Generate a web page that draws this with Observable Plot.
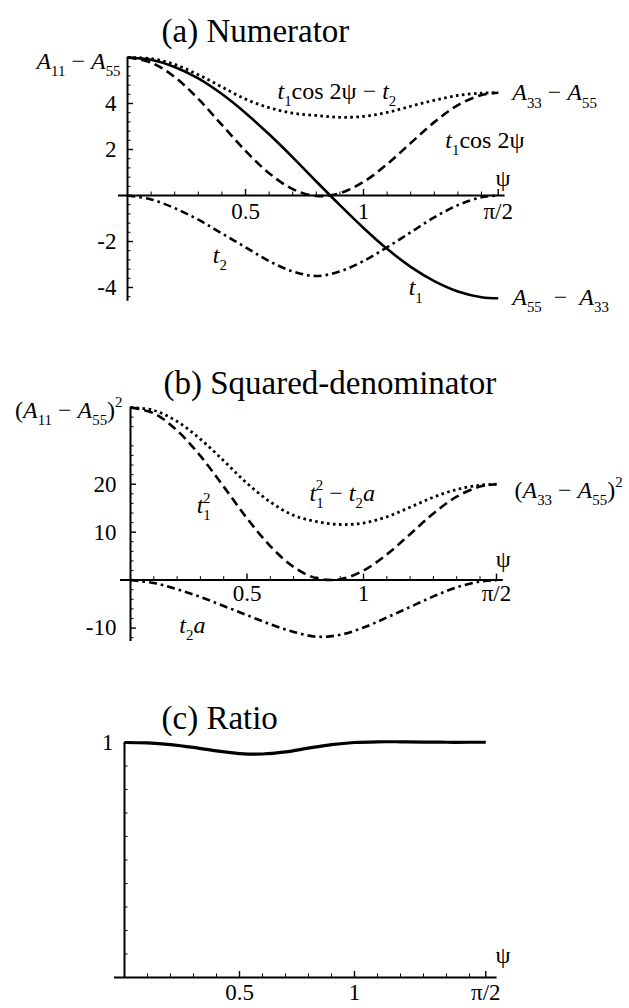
<!DOCTYPE html>
<html><head><meta charset="utf-8">
<script src="https://cdn.jsdelivr.net/npm/d3@7"></script>
<script src="https://cdn.jsdelivr.net/npm/@observablehq/plot@0.6"></script>
<style>
html,body{margin:0;padding:0;background:#fff;}
#chart svg{display:block;font-family:"Liberation Serif","Times New Roman",Times,serif !important;background:#fff;overflow:visible;}
#chart svg text{font-family:"Liberation Serif","Times New Roman",Times,serif !important;}
</style></head><body><div id="chart"></div>
<script>
// ---- data ----
const psi       = [0, 0.1, 0.2, 0.3, 0.4, 0.5, 0.6, 0.7, 0.8, 0.9, 1.0, 1.1, 1.2, 1.3, 1.4, 1.5, 1.5708];
const t1        = [6.00, 5.90, 5.59, 5.09, 4.41, 3.59, 2.66, 1.66, 0.61, -0.42, -1.41, -2.32, -3.10, -3.72, -4.17, -4.42, -4.47];
const t1cos2psi = [6.00, 5.78, 5.15, 4.20, 3.07, 1.94, 0.97, 0.28, -0.02, 0.10, 0.59, 1.36, 2.28, 3.19, 3.93, 4.37, 4.47];
const t2        = [0, -0.17, -0.55, -1.05, -1.65, -2.25, -2.85, -3.30, -3.50, -3.30, -2.85, -2.25, -1.60, -0.95, -0.42, -0.08, 0];
const numer     = [6.00, 5.95, 5.70, 5.25, 4.72, 4.19, 3.82, 3.58, 3.48, 3.40, 3.44, 3.61, 3.88, 4.14, 4.35, 4.45, 4.47];
const t1sq      = [36.0, 34.8, 31.2, 25.9, 19.5, 12.9, 7.09, 2.74, 0.37, 0.18, 2.00, 5.36, 9.58, 13.9, 17.4, 19.5, 20.0];
const t2a       = [0, -0.6, -1.9, -3.5, -5.4, -7.3, -9.2, -10.8, -11.8, -11.4, -9.9, -7.8, -5.6, -3.4, -1.5, -0.3, 0];
const denomSq   = [36.0, 35.4, 33.1, 29.4, 24.9, 20.2, 16.3, 13.5, 12.2, 11.6, 11.9, 13.2, 15.2, 17.3, 18.9, 19.8, 20.0];
const ratio     = [1.000, 0.998, 0.991, 0.979, 0.964, 0.953, 0.951, 0.960, 0.976, 0.991, 1.000, 1.003, 1.003, 1.002, 1.001, 1.001, 1.001];

const xTicks = [0.5, 1, 1.5708];
const xTickLabels = ["0.5", "1", "π/2"];
const yTicksA = [-4, -2, 2, 4];
const yTickLabelsA = ["-4", "-2", "2", "4"];
const yTicksB = [-10, 10, 20];
const yTickLabelsB = ["-10", "10", "20"];
const yTicksC = [1];
const yTickLabelsC = ["1"];

const FONT = '"Liberation Serif", "Times New Roman", Times, serif';
const W = 629;
const SOLID = null, DASH = "9,5", DOT = "2.6,3.4", DASHDOT = "8,4,2.6,4";

function line(vals, dash, sw = 2.6) {
  return Plot.line(psi.map((p, i) => ({p, v: vals[i]})), {
    x: "p", y: "v", curve: "catmull-rom", stroke: "black", strokeWidth: sw,
    strokeDasharray: dash || undefined, strokeLinecap: "butt"
  });
}
function note(vals, i, label, o) {
  return Plot.text([i], {x: j => psi[j], y: j => vals[j], text: () => label,
    textAnchor: o.anchor || "middle", dx: o.dx || 0, dy: o.dy || 0, fontSize: o.size || 24, fontFamily: FONT});
}

function panel(p) {
  const kx = (W - p.ml - p.mr) / (p.x[1] - p.x[0]);
  const ky = (p.h - p.mt - p.mb) / (p.y[1] - p.y[0]);
  const marks = [
    Plot.ruleX([0], {strokeWidth: 2}),
    Plot.ruleY([0], {strokeWidth: 2, insetLeft: -p.xExt}),
    Plot.ruleY(p.yMajor, {x1: 0, x2: 6 / kx, strokeWidth: 1.4}),
    Plot.ruleY(p.yMinor, {x1: 0, x2: 3.5 / kx, strokeWidth: 1}),
    Plot.ruleX(p.xMajor, {y1: 0, y2: 6 / ky, strokeWidth: 1.4}),
    Plot.ruleX(p.xMinor, {y1: 0, y2: 3.5 / ky, strokeWidth: 1}),
    Plot.text(p.xMajor, {x: d => d, y: 0, text: (d, i) => xTickLabels[i], dy: p.xLabelDy, fontSize: 23, fontFamily: FONT}),
    Plot.text(p.yMajor, {x: 0, y: d => d, text: (d, i) => p.yLabels[i], textAnchor: "end", dx: p.yLabelDx, fontSize: 23, fontFamily: FONT}),
    Plot.text(["ψ"], {x: p.x[1], y: 0, text: d => d, dy: p.psiDy, dx: p.psiDx || 0, fontSize: 24, fontFamily: FONT}),
    Plot.text([p.title], {frameAnchor: "top-left", text: d => d, textAnchor: "start", dx: p.titleDx, dy: p.titleDy, fontSize: 33, fontFamily: FONT}),
    ...p.marks
  ];
  return Plot.plot({
    width: W, height: p.h,
    marginLeft: p.ml, marginRight: p.mr, marginTop: p.mt, marginBottom: p.mb,
    x: {domain: p.x, axis: null},
    y: {domain: p.y, axis: null},
    style: `font-family: ${FONT}; font-size: 23px; background: white; color: black; overflow: visible;`,
    marks
  });
}

function richify(svg) {
  svg.querySelectorAll("text").forEach(el => {
    const s = el.textContent;
    if (!/[_^]\{/.test(s)) return;
    const F = parseFloat(getComputedStyle(el).fontSize) || 24;
    const toks = [];
    for (let i = 0; i < s.length;) {
      if ((s[i] === "_" || s[i] === "^") && s[i + 1] === "{") {
        const j = s.indexOf("}", i);
        toks.push({t: s.slice(i + 2, j), k: s[i] === "_" ? "sub" : "sup"});
        i = j + 1;
      } else {
        const it = /[Ata]/.test(s[i]);
        const lastTok = toks[toks.length - 1];
        if (lastTok && lastTok.k === "base" && lastTok.it === it) lastTok.t += s[i];
        else toks.push({t: s[i], k: "base", it});
        i++;
      }
    }
    el.textContent = "";
    let cur = 0, prev = null;
    for (const tk of toks) {
      const ts = document.createElementNS("http://www.w3.org/2000/svg", "tspan");
      const off = tk.k === "sub" ? 0.3 * F : tk.k === "sup" ? -0.45 * F : 0;
      if (off !== cur) ts.setAttribute("dy", off - cur);
      cur = off;
      if (tk.k !== "base") ts.setAttribute("font-size", 0.62 * F);
      if (tk.k === "sup" && prev && prev.k === "sub") ts.setAttribute("dx", -0.52 * 0.62 * F * prev.t.length);
      if (tk.it) ts.setAttribute("font-style", "italic");
      ts.textContent = tk.t;
      el.appendChild(ts);
      prev = tk;
    }
  });
}

const xMinor = d3.range(1, 16).map(d => d / 10).filter(d => d !== 0.5 && d !== 1);
const last = psi.length - 1;

const A = panel({
  h: 320, ml: 127, mr: W - 127 - 1.6 * 236, mt: 57, mb: 320 - 300.8,
  x: [0, 1.6], y: [-4.6, 6], xExt: 9, xLabelDy: 16, psiDy: -17, psiDx: -2, yLabelDx: -11,
  xMajor: xTicks, xMinor,
  yMajor: yTicksA, yLabels: yTickLabelsA,
  yMinor: d3.range(-11, 15).map(d => d * 0.4).filter(d => Math.abs(d % 2) > 0.01 && Math.abs(Math.abs(d % 2) - 2) > 0.01),
  title: "(a) Numerator", titleDx: 34, titleDy: -39,
  marks: [
    Plot.ruleY([6], {x1: 0, x2: 6 / 236, strokeWidth: 1.4}),
    Plot.text([6], {x: 0, y: d => d, text: () => "A_{11} − A_{55}", textAnchor: "end", dx: -7, dy: 4, fontSize: 24, fontFamily: FONT}),
    line(t2, DASHDOT),
    line(t1cos2psi, DASH),
    line(numer, DOT, 2.8),
    line(t1, SOLID),
    note(numer, 9, "t_{1}cos 2ψ − t_{2}", {dx: -3, dy: -26}),
    note(t1cos2psi, 13, "t_{1}cos 2ψ", {anchor: "start", dx: 11, dy: 18}),
    note(t2, 4, "t_{2}", {dx: -2, dy: 22}),
    note(t1, 12, "t_{1}", {dx: 5, dy: 21}),
    note(t1cos2psi, last, "A_{33} − A_{55}", {anchor: "start", dx: 14, dy: 0}),
    note(t1, last, "A_{55}  −  A_{33}", {anchor: "start", dx: 14, dy: -1})
  ]
});

const B = panel({
  h: 340, ml: 130, mr: W - 130 - 1.6 * 233, mt: 87, mb: 19,
  x: [0, 1.6], y: [-12.8, 36], xExt: 10, xLabelDy: 14, psiDy: -21, psiDx: 0, yLabelDx: -14,
  xMajor: xTicks, xMinor,
  yMajor: yTicksB, yLabels: yTickLabelsB,
  yMinor: d3.range(-6, 18).map(d => d * 2).filter(d => d % 10 !== 0),
  title: "(b) Squared-denominator", titleDx: 33, titleDy: -37,
  marks: [
    Plot.ruleY([36], {x1: 0, x2: 6 / 233, strokeWidth: 1.4}),
    Plot.text([36], {x: 0, y: d => d, text: () => "(A_{11} − A_{55})^{2}", textAnchor: "end", dx: -8, dy: 3, fontSize: 24, fontFamily: FONT}),
    line(t2a, DASHDOT),
    line(t1sq, DASH),
    line(denomSq, DOT, 2.8),
    note(t1sq, 4, "t_{1}^{2}", {dx: -20, dy: 19}),
    note(denomSq, 9, "t_{1}^{2} − t_{2}a", {dx: 2, dy: -31}),
    note(t2a, 3, "t_{2}a", {dx: -8, dy: 28}),
    note(t1sq, last, "(A_{33} − A_{55})^{2}", {anchor: "start", dx: 18, dy: 6})
  ]
});

const C = panel({
  h: 348, ml: 124, mr: W - 124 - 1.62 * 230, mt: 82, mb: 31,
  x: [0, 1.62], y: [0, 1], xExt: 10, xLabelDy: 15, psiDy: -22, psiDx: 6, yLabelDx: -11,
  xMajor: xTicks, xMinor,
  yMajor: yTicksC, yLabels: yTickLabelsC,
  yMinor: d3.range(1, 10).map(d => d / 10),
  title: "(c) Ratio", titleDx: 37, titleDy: -37,
  marks: [
    line(ratio, SOLID, 3.2)
  ]
});

const host = document.getElementById("chart");
for (const s of [A, B, C]) { host.appendChild(s); richify(s); }
</script>
</body></html>
